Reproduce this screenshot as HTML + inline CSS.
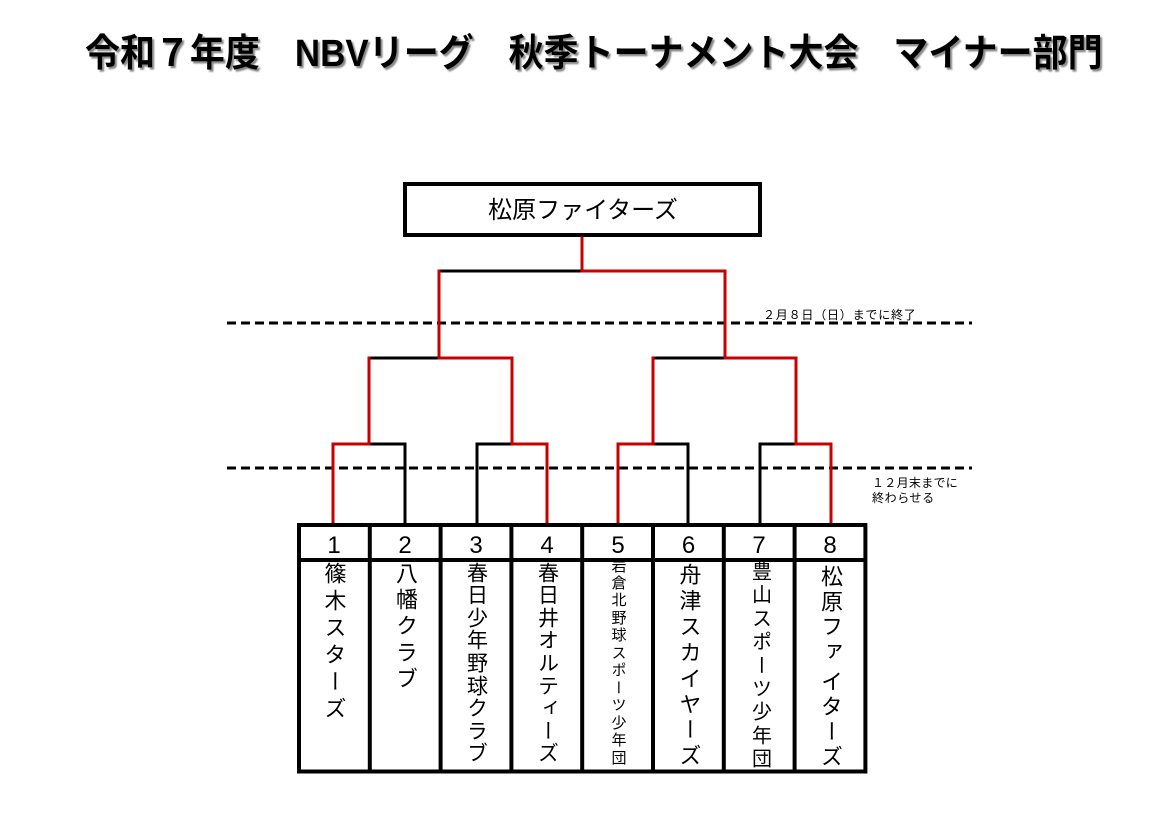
<!DOCTYPE html>
<html>
<head>
<meta charset="utf-8">
<style>
html,body{margin:0;padding:0;background:#fff;}
body{width:1169px;height:826px;position:relative;overflow:hidden;}
.v{position:absolute;writing-mode:vertical-rl;font-family:"Liberation Sans","Noto Sans CJK JP",sans-serif;line-height:1;color:#000;text-align:center;}
.a{font-size:22px;width:22px;height:22px;}
.b{font-size:21px;width:21px;height:21px;}
.c{font-size:15px;width:15px;height:15px;}
.d{font-size:20px;width:20px;height:20px;}
svg{position:absolute;left:0;top:0;}
</style>
</head>
<body>
<!-- column 1 -->
<div class="v a" style="left:322.5px;top:562px">篠</div>
<div class="v a" style="left:322.5px;top:589px">木</div>
<div class="v a" style="left:322.5px;top:616px">ス</div>
<div class="v a" style="left:322.5px;top:643px">タ</div>
<div class="v a" style="left:322.5px;top:670px">ー</div>
<div class="v a" style="left:322.5px;top:697px">ズ</div>
<!-- column 2 -->
<div class="v a" style="left:394px;top:562px">八</div>
<div class="v a" style="left:394px;top:588px">幡</div>
<div class="v a" style="left:394px;top:614px">ク</div>
<div class="v a" style="left:394px;top:641px">ラ</div>
<div class="v a" style="left:394px;top:667px">ブ</div>
<!-- column 3 -->
<div class="v b" style="left:465.5px;top:561.5px">春</div>
<div class="v b" style="left:465.5px;top:584.1px">日</div>
<div class="v b" style="left:465.5px;top:606.7px">少</div>
<div class="v b" style="left:465.5px;top:629.3px">年</div>
<div class="v b" style="left:465.5px;top:651.9px">野</div>
<div class="v b" style="left:465.5px;top:674.5px">球</div>
<div class="v b" style="left:465.5px;top:697.1px">ク</div>
<div class="v b" style="left:465.5px;top:719.7px">ラ</div>
<div class="v b" style="left:465.5px;top:742.3px">ブ</div>
<!-- column 4 -->
<div class="v b" style="left:536.5px;top:561.5px">春</div>
<div class="v b" style="left:536.5px;top:584.1px">日</div>
<div class="v b" style="left:536.5px;top:606.7px">井</div>
<div class="v b" style="left:536.5px;top:629.3px">オ</div>
<div class="v b" style="left:536.5px;top:651.9px">ル</div>
<div class="v b" style="left:536.5px;top:674.5px">テ</div>
<div class="v b" style="left:536.5px;top:697.1px">ィ</div>
<div class="v b" style="left:536.5px;top:719.7px">ー</div>
<div class="v b" style="left:536.5px;top:742.3px">ズ</div>
<!-- column 5 -->
<div class="v c" style="left:610.5px;top:557.5px">岩</div>
<div class="v c" style="left:610.5px;top:575px">倉</div>
<div class="v c" style="left:610.5px;top:592.4px">北</div>
<div class="v c" style="left:610.5px;top:609.9px">野</div>
<div class="v c" style="left:610.5px;top:627.3px">球</div>
<div class="v c" style="left:610.5px;top:644.8px">ス</div>
<div class="v c" style="left:610.5px;top:662.2px">ポ</div>
<div class="v c" style="left:610.5px;top:679.7px">ー</div>
<div class="v c" style="left:610.5px;top:697.1px">ツ</div>
<div class="v c" style="left:610.5px;top:714.6px">少</div>
<div class="v c" style="left:610.5px;top:732px">年</div>
<div class="v c" style="left:610.5px;top:749.5px">団</div>
<!-- column 6 -->
<div class="v a" style="left:677.5px;top:563px">舟</div>
<div class="v a" style="left:677.5px;top:588.9px">津</div>
<div class="v a" style="left:677.5px;top:614.8px">ス</div>
<div class="v a" style="left:677.5px;top:640.7px">カ</div>
<div class="v a" style="left:677.5px;top:666.6px">イ</div>
<div class="v a" style="left:677.5px;top:692.5px">ヤ</div>
<div class="v a" style="left:677.5px;top:718.4px">ー</div>
<div class="v a" style="left:677.5px;top:744.3px">ズ</div>
<!-- column 7 -->
<div class="v d" style="left:749.5px;top:561px">豊</div>
<div class="v d" style="left:749.5px;top:584.4px">山</div>
<div class="v d" style="left:749.5px;top:607.8px">ス</div>
<div class="v d" style="left:749.5px;top:631.2px">ポ</div>
<div class="v d" style="left:749.5px;top:654.6px">ー</div>
<div class="v d" style="left:749.5px;top:678px">ツ</div>
<div class="v d" style="left:749.5px;top:701.4px">少</div>
<div class="v d" style="left:749.5px;top:724.8px">年</div>
<div class="v d" style="left:749.5px;top:748.2px">団</div>
<!-- column 8 -->
<div class="v a" style="left:819px;top:565px">松</div>
<div class="v a" style="left:819px;top:590px">原</div>
<div class="v a" style="left:819px;top:615px">フ</div>
<div class="v a" style="left:819px;top:640px">ァ</div>
<div class="v a" style="left:819px;top:670px">イ</div>
<div class="v a" style="left:819px;top:695px">タ</div>
<div class="v a" style="left:819px;top:720px">ー</div>
<div class="v a" style="left:819px;top:745px">ズ</div>

<svg width="1169" height="826" viewBox="0 0 1169 826" xmlns="http://www.w3.org/2000/svg">
  <defs>
    <filter id="sh" x="-5%" y="-20%" width="110%" height="150%">
      <feDropShadow dx="2" dy="2" stdDeviation="0.8" flood-color="#7a7a7a" flood-opacity="0.9"/>
    </filter>
  </defs>

  <!-- title -->
  <g transform="translate(0,66) scale(1,1.08)">
    <text x="85" y="0" font-family="'Liberation Sans','Noto Sans CJK JP',sans-serif" font-size="35" font-weight="bold" fill="#000" filter="url(#sh)">令和７年度　NBVリーグ　秋季トーナメント大会　マイナー部門</text>
  </g>

  <!-- champion box -->
  <rect x="405" y="184" width="355" height="51" fill="#fff" stroke="#000" stroke-width="4"/>
  <text x="583" y="218" text-anchor="middle" font-family="'Liberation Sans','Noto Sans CJK JP',sans-serif" font-size="24" fill="#000">松原ファイターズ</text>

  <!-- dashed lines -->
  <line x1="227" y1="323" x2="972" y2="323" stroke="#000" stroke-width="3" stroke-dasharray="9 5"/>
  <line x1="227" y1="468" x2="972" y2="468" stroke="#000" stroke-width="3" stroke-dasharray="9 5"/>

  <!-- notes -->
  <text x="763" y="319" font-family="'Liberation Sans','Noto Sans CJK JP',sans-serif" font-size="12" letter-spacing="0.8" fill="#000">２月８日（日）までに終了</text>
  <text x="872" y="487" font-family="'Liberation Sans','Noto Sans CJK JP',sans-serif" font-size="12" letter-spacing="0.3" fill="#000">１２月末までに</text>
  <text x="872" y="502" font-family="'Liberation Sans','Noto Sans CJK JP',sans-serif" font-size="12" letter-spacing="0.6" fill="#000">終わらせる</text>

  <!-- black bracket segments -->
  <g stroke="#000" stroke-width="3" stroke-linecap="square" fill="none">
    <line x1="439" y1="271" x2="582" y2="271"/>
    <line x1="369" y1="358" x2="440" y2="358"/>
    <line x1="653" y1="358" x2="725" y2="358"/>
    <line x1="369" y1="444" x2="405" y2="444"/>
    <line x1="477" y1="444" x2="512" y2="444"/>
    <line x1="653" y1="444" x2="688" y2="444"/>
    <line x1="760" y1="444" x2="796" y2="444"/>
    <line x1="405" y1="444" x2="405" y2="523"/>
    <line x1="477" y1="444" x2="477" y2="523"/>
    <line x1="688" y1="444" x2="688" y2="523"/>
    <line x1="760" y1="444" x2="760" y2="523"/>
  </g>
  <!-- red bracket segments -->
  <g stroke="#c80000" stroke-width="3" stroke-linecap="square" fill="none">
    <line x1="582" y1="238" x2="582" y2="271"/>
    <line x1="582" y1="271" x2="725" y2="271"/>
    <line x1="439" y1="271" x2="439" y2="358"/>
    <line x1="725" y1="271" x2="725" y2="358"/>
    <line x1="440" y1="358" x2="512" y2="358"/>
    <line x1="725" y1="358" x2="796" y2="358"/>
    <line x1="369" y1="358" x2="369" y2="444"/>
    <line x1="512" y1="358" x2="512" y2="444"/>
    <line x1="653" y1="358" x2="653" y2="444"/>
    <line x1="796" y1="358" x2="796" y2="444"/>
    <line x1="333" y1="444" x2="369" y2="444"/>
    <line x1="512" y1="444" x2="547" y2="444"/>
    <line x1="618" y1="444" x2="653" y2="444"/>
    <line x1="796" y1="444" x2="831" y2="444"/>
    <line x1="333" y1="444" x2="333" y2="523"/>
    <line x1="547" y1="444" x2="547" y2="523"/>
    <line x1="618" y1="444" x2="618" y2="523"/>
    <line x1="831" y1="444" x2="831" y2="523"/>
  </g>

  <!-- table -->
  <g stroke="#000" stroke-width="4" fill="none">
    <rect x="299" y="525" width="566.4" height="246.5"/>
    <line x1="299" y1="560" x2="865.4" y2="560"/>
    <line x1="369.8" y1="525" x2="369.8" y2="771.5"/>
    <line x1="440.6" y1="525" x2="440.6" y2="771.5"/>
    <line x1="511.4" y1="525" x2="511.4" y2="771.5"/>
    <line x1="582.2" y1="525" x2="582.2" y2="771.5"/>
    <line x1="653" y1="525" x2="653" y2="771.5"/>
    <line x1="723.8" y1="525" x2="723.8" y2="771.5"/>
    <line x1="794.6" y1="525" x2="794.6" y2="771.5"/>
  </g>

  <!-- numbers -->
  <g font-family="'Liberation Sans','Noto Sans CJK JP',sans-serif" font-size="24" fill="#000" text-anchor="middle">
    <text x="334" y="553">1</text>
    <text x="405" y="553">2</text>
    <text x="476" y="553">3</text>
    <text x="547" y="553">4</text>
    <text x="618" y="553">5</text>
    <text x="688.5" y="553">6</text>
    <text x="759" y="553">7</text>
    <text x="830" y="553">8</text>
  </g>
</svg>
</body>
</html>
